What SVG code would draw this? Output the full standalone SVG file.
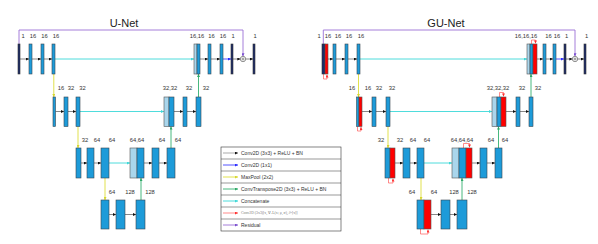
<svg xmlns="http://www.w3.org/2000/svg" width="598" height="244" viewBox="0 0 598 244">
<style>
.b{fill:#1d9bd9;stroke:#3a4650;stroke-width:0.6}
.n{fill:#1c2c6a;stroke:#333;stroke-width:0.6}
.r{fill:#ff0000;stroke:#555;stroke-width:0.6}
.lb{fill:#aad6ec;stroke:#555;stroke-width:0.6}
.add{fill:#fff;stroke:#222;stroke-width:0.5}
.lbl{font-family:"Liberation Sans",Arial,sans-serif;font-size:5.8px;fill:#333;text-anchor:middle}
.ttl{font-family:"Liberation Sans",Arial,sans-serif;font-size:11px;fill:#222;text-anchor:middle}
.lg{font-family:"Liberation Sans",Arial,sans-serif;font-size:5px;fill:#333}
.lgm{font-family:"Liberation Serif","Times New Roman",serif;font-size:3.8px;fill:#777}
.cv{stroke:#555;stroke-width:0.7;fill:none;marker-end:url(#mk)}
.c1{stroke:#2a2aff;stroke-width:0.8;fill:none;marker-end:url(#mb)}
.mp{stroke:#dede3a;stroke-width:0.9;fill:none;marker-end:url(#my)}
.up{stroke:#33b070;stroke-width:0.9;fill:none;marker-end:url(#mg)}
.cc{stroke:#4fdcdc;stroke-width:1;fill:none;marker-end:url(#mc)}
.gr{stroke:#ff5a5a;stroke-width:0.7;fill:none;marker-end:url(#mr)}
.rs{stroke:#9b6fd6;stroke-width:0.9;fill:none;marker-end:url(#mp)}
.box{fill:#fff;stroke:#333;stroke-width:0.6}
.div{stroke:#333;stroke-width:0.5}
</style>
<defs>
<marker id="mk" viewBox="0 0 6 6" refX="6" refY="3" markerWidth="3" markerHeight="3" markerUnits="userSpaceOnUse" orient="auto"><path d="M0,0L6,3L0,6z" fill="#111"/></marker>
<marker id="mb" viewBox="0 0 6 6" refX="6" refY="3" markerWidth="3" markerHeight="3" markerUnits="userSpaceOnUse" orient="auto"><path d="M0,0L6,3L0,6z" fill="#2a2aff"/></marker>
<marker id="my" viewBox="0 0 6 6" refX="6" refY="3" markerWidth="3" markerHeight="3" markerUnits="userSpaceOnUse" orient="auto"><path d="M0,0L6,3L0,6z" fill="#d6d630"/></marker>
<marker id="mg" viewBox="0 0 6 6" refX="6" refY="3" markerWidth="3" markerHeight="3" markerUnits="userSpaceOnUse" orient="auto"><path d="M0,0L6,3L0,6z" fill="#2ea866"/></marker>
<marker id="mc" viewBox="0 0 6 6" refX="6" refY="3" markerWidth="3" markerHeight="3" markerUnits="userSpaceOnUse" orient="auto"><path d="M0,0L6,3L0,6z" fill="#40d8d8"/></marker>
<marker id="mr" viewBox="0 0 6 6" refX="6" refY="3" markerWidth="3" markerHeight="3" markerUnits="userSpaceOnUse" orient="auto"><path d="M0,0L6,3L0,6z" fill="#ff3030"/></marker>
<marker id="mp" viewBox="0 0 6 6" refX="6" refY="3" markerWidth="3" markerHeight="3" markerUnits="userSpaceOnUse" orient="auto"><path d="M0,0L6,3L0,6z" fill="#7a4fcf"/></marker>
</defs>

<text class="ttl" x="124" y="27">U-Net</text>
<text class="ttl" x="446" y="27">GU-Net</text>

<g id="connectors">
<!-- U-Net level 1 -->
<path class="rs" d="M19 44V30H243V56.3"/>
<path class="cv" d="M20 59H29"/>
<path class="cv" d="M32 59H41"/>
<path class="cv" d="M44 59H52"/>
<path class="cc" d="M55 59H194"/>
<path class="cv" d="M200 59H208"/>
<path class="cv" d="M211 59H220"/>
<path class="c1" d="M223 59H231"/>
<path class="cv" d="M233 59H240.3"/>
<path class="cv" d="M245.7 59H253"/>
<path class="mp" d="M53.8 74V97"/>
<path class="up" d="M198.5 97V74"/>
<!-- U-Net level 2 -->
<path class="cv" d="M55.5 111.5H64"/>
<path class="cv" d="M68 111.5H76"/>
<path class="cc" d="M80 111.5H164"/>
<path class="cv" d="M174 111.5H183"/>
<path class="cv" d="M187 111.5H196"/>
<path class="mp" d="M78 126.5V148"/>
<path class="up" d="M171 148V126.5"/>
<!-- U-Net level 3 -->
<path class="cv" d="M81 163H87"/>
<path class="cv" d="M94 163H101"/>
<path class="cc" d="M109 163H130"/>
<path class="cv" d="M144 163H152"/>
<path class="cv" d="M159 163H167"/>
<path class="mp" d="M105 178V200"/>
<path class="up" d="M141 200V178"/>
<!-- U-Net level 4 -->
<path class="cv" d="M109 214.5H116"/>
<path class="cv" d="M125 214.5H136"/>

<!-- GU-Net level 1 -->
<path class="rs" d="M323.3 44V30H575V56.3"/>
<path class="gr" d="M323.5 74V79H327V74.6"/>
<path class="cv" d="M328 59H333"/>
<path class="cv" d="M336 59H345"/>
<path class="cv" d="M348 59H357"/>
<path class="cc" d="M360 59H527"/>
<path class="gr" d="M531.5 44V40H535.5V43.4"/>
<path class="cv" d="M537 59H543"/>
<path class="cv" d="M546 59H553"/>
<path class="c1" d="M556 59H564"/>
<path class="cv" d="M566 59H572.3"/>
<path class="cv" d="M577.7 59H584"/>
<path class="mp" d="M358.5 74V97"/>
<path class="up" d="M531 97V74"/>
<!-- GU-Net level 2 -->
<path class="gr" d="M357.5 126.5V131H361V127.1"/>
<path class="cv" d="M362 111.5H372"/>
<path class="cv" d="M376 111.5H386"/>
<path class="cc" d="M390 111.5H492"/>
<path class="gr" d="M499.5 97V92.5H503.5V96.4"/>
<path class="cv" d="M506 111.5H516"/>
<path class="cv" d="M520 111.5H529"/>
<path class="mp" d="M388 126.5V148"/>
<path class="up" d="M498.5 148V126.5"/>
<!-- GU-Net level 3 -->
<path class="gr" d="M388.5 178V183H393V178.6"/>
<path class="cv" d="M395 163H403"/>
<path class="cv" d="M410 163H417"/>
<path class="cc" d="M424 163H452"/>
<path class="gr" d="M463.5 148V143.5H469.5V147.4"/>
<path class="cv" d="M472 163H480"/>
<path class="cv" d="M487 163H495"/>
<path class="mp" d="M421 178V200"/>
<path class="up" d="M462 200V178"/>
<!-- GU-Net level 4 -->
<path class="gr" d="M420.5 229V234H428V229.6"/>
<path class="cv" d="M431 214.5H441"/>
<path class="cv" d="M450 214.5H457"/>
</g>

<!-- U-Net nodes -->
<g id="u1a"><rect class="n" x="18" y="44" width="2" height="30"/><text class="lbl" x="23" y="38">1</text></g>
<g id="u1b"><rect class="b" x="29" y="44" width="3" height="30"/><text class="lbl" x="33" y="38">16</text></g>
<g id="u1c"><rect class="b" x="41" y="44" width="3" height="30"/><text class="lbl" x="44.5" y="38">16</text></g>
<g id="u1d"><rect class="b" x="52" y="44" width="3" height="30"/><text class="lbl" x="56" y="38">16</text></g>
<g id="u1cat"><rect class="lb" x="194" y="44" width="3" height="30"/><rect class="b" x="197" y="44" width="3" height="30"/><text class="lbl" x="197" y="38">16,16</text></g>
<g id="u1e"><rect class="b" x="208" y="44" width="3" height="30"/><text class="lbl" x="211.5" y="38">16</text></g>
<g id="u1f"><rect class="b" x="220" y="44" width="3" height="30"/><text class="lbl" x="223" y="38">16</text></g>
<g id="u1g"><rect class="n" x="231" y="44" width="2" height="30"/><text class="lbl" x="233" y="38">1</text></g>
<g id="u1add"><circle class="add" cx="243" cy="59" r="2.7"/><path d="M241.4 59H244.6M243 57.4V60.6" stroke="#222" stroke-width="0.45"/></g>
<g id="u1out"><rect class="n" x="253" y="44" width="2" height="30"/><text class="lbl" x="255" y="38">1</text></g>

<g id="u2a"><rect class="b" x="53" y="97" width="2.5" height="29.5"/><text class="lbl" x="61" y="90">16</text></g>
<g id="u2b"><rect class="b" x="64" y="97" width="4" height="29.5"/><text class="lbl" x="71" y="90">32</text></g>
<g id="u2c"><rect class="b" x="76" y="97" width="4" height="29.5"/><text class="lbl" x="82.5" y="90">32</text></g>
<g id="u2cat"><rect class="lb" x="164" y="97" width="5" height="29.5"/><rect class="b" x="169" y="97" width="5" height="29.5"/><text class="lbl" x="170" y="90">32,32</text></g>
<g id="u2d"><rect class="b" x="183" y="97" width="4" height="29.5"/><text class="lbl" x="189" y="90">32</text></g>
<g id="u2e"><rect class="b" x="196" y="97" width="5" height="29.5"/><text class="lbl" x="206" y="90">32</text></g>

<g id="u3a"><rect class="b" x="76" y="148" width="5" height="30"/><text class="lbl" x="85" y="142">32</text></g>
<g id="u3b"><rect class="b" x="87" y="148" width="7" height="30"/><text class="lbl" x="97" y="142">64</text></g>
<g id="u3c"><rect class="b" x="101" y="148" width="8" height="30"/><text class="lbl" x="112" y="142">64</text></g>
<g id="u3cat"><rect class="lb" x="130" y="148" width="7" height="30"/><rect class="b" x="137" y="148" width="7" height="30"/><text class="lbl" x="137" y="142">64,64</text></g>
<g id="u3d"><rect class="b" x="152" y="148" width="7" height="30"/><text class="lbl" x="162" y="142">64</text></g>
<g id="u3e"><rect class="b" x="167" y="148" width="8" height="30"/><text class="lbl" x="178" y="142">64</text></g>

<g id="u4a"><rect class="b" x="101" y="200" width="8" height="29"/><text class="lbl" x="112" y="194">64</text></g>
<g id="u4b"><rect class="b" x="116" y="200" width="9" height="29"/><text class="lbl" x="130" y="194">128</text></g>
<g id="u4c"><rect class="b" x="136" y="200" width="9" height="29"/><text class="lbl" x="150" y="194">128</text></g>

<!-- GU-Net nodes -->
<g id="g1a"><rect class="n" x="322" y="44" width="3" height="30"/><rect class="r" x="325" y="44" width="3" height="30"/><text class="lbl" x="319" y="38">1</text><text class="lbl" x="328" y="38">16</text></g>
<g id="g1b"><rect class="b" x="333" y="44" width="3" height="30"/><text class="lbl" x="338" y="38">16</text></g>
<g id="g1c"><rect class="b" x="345" y="44" width="3" height="30"/><text class="lbl" x="349" y="38">16</text></g>
<g id="g1d"><rect class="b" x="357" y="44" width="3" height="30"/><text class="lbl" x="361" y="38">16</text></g>
<g id="g1cat"><rect class="lb" x="527" y="44" width="3" height="30"/><rect class="b" x="530" y="44" width="3" height="30"/><rect class="r" x="533" y="44" width="4" height="30"/><text class="lbl" x="526" y="38">16,16,16</text></g>
<g id="g1e"><rect class="b" x="543" y="44" width="3" height="30"/><text class="lbl" x="548.5" y="38">16</text></g>
<g id="g1f"><rect class="b" x="553" y="44" width="3" height="30"/><text class="lbl" x="557" y="38">16</text></g>
<g id="g1g"><rect class="n" x="564" y="44" width="2" height="30"/><text class="lbl" x="566.5" y="38">1</text></g>
<g id="g1add"><circle class="add" cx="575" cy="59" r="2.7"/><path d="M573.4 59H576.6M575 57.4V60.6" stroke="#222" stroke-width="0.45"/></g>
<g id="g1out"><rect class="n" x="584" y="44" width="2" height="30"/><text class="lbl" x="586.5" y="38">1</text></g>

<g id="g2a"><rect class="b" x="356.5" y="97" width="2.5" height="29.5"/><rect class="r" x="359" y="97" width="3" height="29.5"/><text class="lbl" x="352" y="90">16</text><text class="lbl" x="368" y="90">16</text></g>
<g id="g2b"><rect class="b" x="372" y="97" width="4" height="29.5"/><text class="lbl" x="379" y="90">32</text></g>
<g id="g2c"><rect class="b" x="386" y="97" width="4" height="29.5"/><text class="lbl" x="392" y="90">32</text></g>
<g id="g2cat"><rect class="lb" x="492" y="97" width="5" height="29.5"/><rect class="b" x="497" y="97" width="4" height="29.5"/><rect class="r" x="501" y="97" width="5" height="29.5"/><text class="lbl" x="498" y="90">32,32,32</text></g>
<g id="g2d"><rect class="b" x="516" y="97" width="4" height="29.5"/><text class="lbl" x="522" y="90">32</text></g>
<g id="g2e"><rect class="b" x="529" y="97" width="4" height="29.5"/><text class="lbl" x="538" y="90">32</text></g>

<g id="g3a"><rect class="b" x="385" y="148" width="5" height="30"/><rect class="r" x="390" y="148" width="5" height="30"/><text class="lbl" x="381" y="142">32</text><text class="lbl" x="400" y="142">32</text></g>
<g id="g3b"><rect class="b" x="403" y="148" width="7" height="30"/><text class="lbl" x="413" y="142">64</text></g>
<g id="g3c"><rect class="b" x="417" y="148" width="7" height="30"/><text class="lbl" x="427" y="142">64</text></g>
<g id="g3cat"><rect class="lb" x="452" y="148" width="7" height="30"/><rect class="b" x="459" y="148" width="7" height="30"/><rect class="r" x="466" y="148" width="6" height="30"/><text class="lbl" x="462" y="142">64,64,64</text></g>
<g id="g3d"><rect class="b" x="480" y="148" width="7" height="30"/><text class="lbl" x="491" y="142">64</text></g>
<g id="g3e"><rect class="b" x="495" y="148" width="7" height="30"/><text class="lbl" x="505" y="142">64</text></g>

<g id="g4a"><rect class="b" x="417" y="200" width="7" height="29"/><rect class="r" x="424" y="200" width="7" height="29"/><text class="lbl" x="412" y="194">64</text><text class="lbl" x="434" y="194">64</text></g>
<g id="g4b"><rect class="b" x="441" y="200" width="9" height="29"/><text class="lbl" x="454" y="194">128</text></g>
<g id="g4c"><rect class="b" x="457" y="200" width="10" height="29"/><text class="lbl" x="472" y="194">128</text></g>

<!-- Legend -->
<g id="legend">
<rect class="box" x="221" y="147" width="120" height="84"/>
<path class="div" d="M221 159H341M221 171H341M221 183H341M221 195H341M221 207H341M221 219H341"/>
<path class="cv" d="M223 153H238" style="stroke:#888"/>
<text class="lg" x="241" y="154.8">Conv2D (3x3) + ReLU + BN</text>
<path class="c1" d="M223 165H238"/>
<text class="lg" x="241" y="166.8">Conv2D (1x1)</text>
<path class="mp" d="M223 177H238"/>
<text class="lg" x="241" y="178.8">MaxPool (2x2)</text>
<path class="up" d="M223 189H238"/>
<text class="lg" x="241" y="190.8">ConvTranspose2D (3x3) + ReLU + BN</text>
<path class="cc" d="M223 201H238"/>
<text class="lg" x="241" y="202.8">Concatenate</text>
<path class="gr" d="M223 213H238"/>
<text class="lgm" x="241" y="214.4">Conv2D (3x3)[x, ∇ₓL(x; μ, σ),  ∂ᵏ[x]]</text>
<path class="rs" d="M223 225H238"/>
<text class="lg" x="241" y="226.8">Residual</text>
</g>
</svg>
